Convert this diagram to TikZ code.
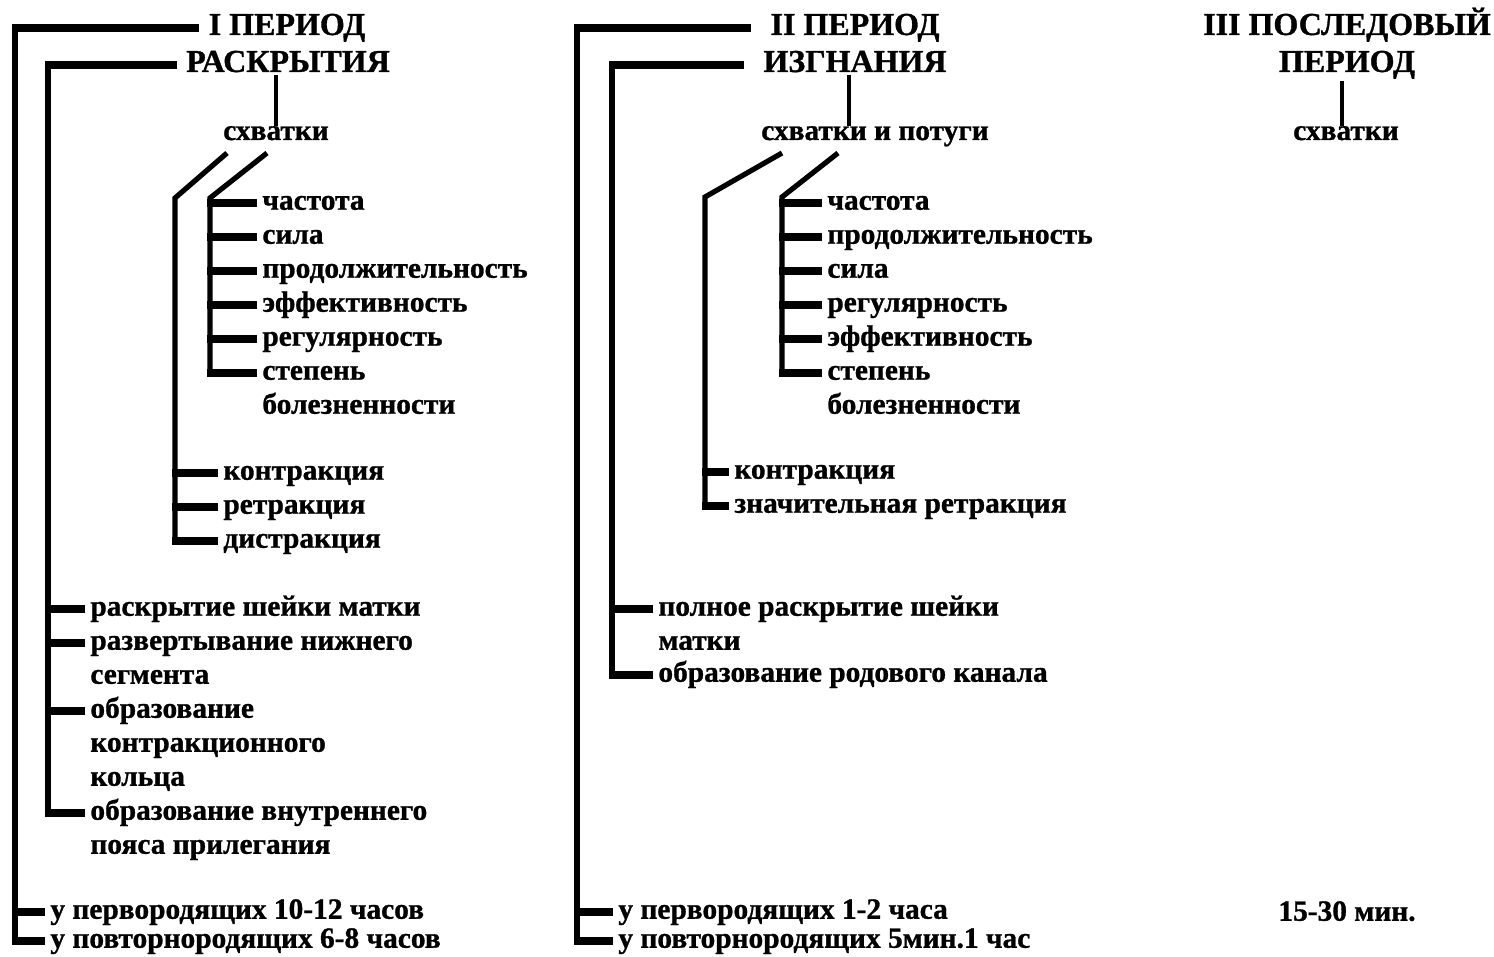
\documentclass[tikz,border=0pt]{standalone}
\usepackage{fontspec}
\setmainfont{Liberation Serif}[BoldFeatures={FakeBold=1}]
\usetikzlibrary{positioning}

\newcommand{\hdrfont}{\fontsize{16}{18.5}\selectfont\bfseries}
\newcommand{\itmfont}{\fontsize{14.7}{17}\selectfont\bfseries}

\tikzset{
  hdr/.style={font=\hdrfont, inner xsep=2.5pt, inner ysep=1pt, anchor=base},
  top/.style={font=\itmfont, inner sep=0pt, anchor=base},
  itm/.style={font=\itmfont, inner xsep=2.5pt, inner ysep=0pt, anchor=mid west},
  spine/.style={line width=2.6pt},
  stem/.style={line width=2.3pt},
  tick/.style={line width=4pt, shorten <=-1.3pt}
}

\begin{document}
\begin{tikzpicture}[x=0.5pt,y=-0.5pt,execute at begin picture=\itmfont]
\useasboundingbox (0,0) rectangle (1494,957);

\edef\ya{203}
\edef\dy{34}

% I
\node[hdr] (h1a) at (287,35) {I ПЕРИОД};
\node[hdr] (h1b) at (288,72) {РАСКРЫТИЯ};
\node[top] (s1) at (276,140) {схватки};

\node[itm] (a1) at (257,\ya) {частота};
\node[itm] (a2) at (257,\ya+\dy) {сила};
\node[itm] (a3) at (257,\ya+2*\dy) {продолжительность};
\node[itm] (a4) at (257,\ya+3*\dy) {эффективность};
\node[itm] (a5) at (257,\ya+4*\dy) {регулярность};
\node[itm] (a6) at (257,\ya+5*\dy) {степень};
\node[itm] (a6b) at (257,\ya+6*\dy) {болезненности};

\node[itm] (b1) at (218,473) {контракция};
\node[itm] (b2) at (218,507) {ретракция};
\node[itm] (b3) at (218,541) {дистракция};

\node[itm] (c1) at (85,609) {раскрытие шейки матки};
\node[itm] (c2) at (85,643) {развертывание нижнего};
\node[itm] (c2b) at (85,677) {сегмента};
\node[itm] (c3) at (85,711) {образование};
\node[itm] (c3b) at (85,745) {контракционного};
\node[itm] (c3c) at (85,779) {кольца};
\node[itm] (c4) at (85,813) {образование внутреннего};
\node[itm] (c4b) at (85,847) {пояса прилегания};

\node[itm] (d1) at (45,912) {у первородящих 10-12 часов};
\node[itm] (d2) at (45,941) {у повторнородящих 6-8 часов};

\coordinate (o1) at (15,0);
\coordinate (i1) at (48,0);
\coordinate (k1) at (227,153);
\coordinate (k2) at (267,153);
\coordinate (e1) at (175,198);
\coordinate (e2) at (210,198);

\draw[tick] (o1 |- h1a.mid west) -- ([xshift=-2pt]h1a.mid west);
\draw[spine] (o1 |- h1a.mid west) -- (o1 |- d2.mid west);
\draw[tick] (o1 |- d1.mid west) -- (d1.mid west);
\draw[tick] (o1 |- d2.mid west) -- (d2.mid west);

\draw[tick] (i1 |- h1b.mid west) -- ([xshift=-2pt]h1b.mid west);
\draw[spine] (i1 |- h1b.mid west) -- (i1 |- c4.mid west);
\draw[tick] (i1 |- c1.mid west) -- (c1.mid west);
\draw[tick] (i1 |- c2.mid west) -- (c2.mid west);
\draw[tick] (i1 |- c3.mid west) -- (c3.mid west);
\draw[tick] (i1 |- c4.mid west) -- (c4.mid west);

\draw[stem] (s1.north) -- (s1.north |- h1b.south);

\draw[spine] (k1) -- (e1) -- (e1 |- b3.mid west);
\draw[tick] (e1 |- b1.mid west) -- (b1.mid west);
\draw[tick] (e1 |- b2.mid west) -- (b2.mid west);
\draw[tick] (e1 |- b3.mid west) -- (b3.mid west);

\draw[spine] (k2) -- (e2) -- (e2 |- a6.mid west);
\draw[tick] (e2 |- a1.mid west) -- (a1.mid west);
\draw[tick] (e2 |- a2.mid west) -- (a2.mid west);
\draw[tick] (e2 |- a3.mid west) -- (a3.mid west);
\draw[tick] (e2 |- a4.mid west) -- (a4.mid west);
\draw[tick] (e2 |- a5.mid west) -- (a5.mid west);
\draw[tick] (e2 |- a6.mid west) -- (a6.mid west);

% II
\node[hdr] (h2a) at (855,35) {II ПЕРИОД};
\node[hdr] (h2b) at (855,72) {ИЗГНАНИЯ};
\node[top] (s2) at (875,140) {схватки и потуги};

\node[itm] (f1) at (822,\ya) {частота};
\node[itm] (f2) at (822,\ya+\dy) {продолжительность};
\node[itm] (f3) at (822,\ya+2*\dy) {сила};
\node[itm] (f4) at (822,\ya+3*\dy) {регулярность};
\node[itm] (f5) at (822,\ya+4*\dy) {эффективность};
\node[itm] (f6) at (822,\ya+5*\dy) {степень};
\node[itm] (f6b) at (822,\ya+6*\dy) {болезненности};

\node[itm] (g1) at (729,472) {контракция};
\node[itm] (g2) at (729,506) {значительная ретракция};

\node[itm] (m1) at (653,609) {полное раскрытие шейки};
\node[itm] (m1b) at (653,643) {матки};
\node[itm] (m2) at (653,675) {образование родового канала};

\node[itm] (n1) at (613,912) {у первородящих 1-2 часа};
\node[itm] (n2) at (613,941) {у повторнородящих 5мин.1 час};

\coordinate (o2) at (577,0);
\coordinate (i2) at (612,0);
\coordinate (k3) at (782,153);
\coordinate (k4) at (838,153);
\coordinate (e3) at (705,197);
\coordinate (e4) at (782,197);

\draw[tick] (o2 |- h2a.mid west) -- ([xshift=-7pt]h2a.mid west);
\draw[spine] (o2 |- h2a.mid west) -- (o2 |- n2.mid west);
\draw[tick] (o2 |- n1.mid west) -- (n1.mid west);
\draw[tick] (o2 |- n2.mid west) -- (n2.mid west);

\draw[tick] (i2 |- h2b.mid west) -- ([xshift=-7pt]h2b.mid west);
\draw[spine] (i2 |- h2b.mid west) -- (i2 |- m2.mid west);
\draw[tick] (i2 |- m1.mid west) -- (m1.mid west);
\draw[tick] (i2 |- m2.mid west) -- (m2.mid west);

\draw[stem] ([xshift=-3pt]h2b.south) -- ([xshift=-3pt]h2b.south |- s2.north);

\draw[spine] (k3) -- (e3) -- (e3 |- g2.mid west);
\draw[tick] (e3 |- g1.mid west) -- (g1.mid west);
\draw[tick] (e3 |- g2.mid west) -- (g2.mid west);

\draw[spine] (k4) -- (e4) -- (e4 |- f6.mid west);
\draw[tick] (e4 |- f1.mid west) -- (f1.mid west);
\draw[tick] (e4 |- f2.mid west) -- (f2.mid west);
\draw[tick] (e4 |- f3.mid west) -- (f3.mid west);
\draw[tick] (e4 |- f4.mid west) -- (f4.mid west);
\draw[tick] (e4 |- f5.mid west) -- (f5.mid west);
\draw[tick] (e4 |- f6.mid west) -- (f6.mid west);

% III
\node[hdr] (h3a) at (1347,35) {III ПОСЛЕДОВЫЙ};
\node[hdr] (h3b) at (1347,72) {ПЕРИОД};
\node[top] (s3) at (1346,140) {схватки};
\node[top,anchor=mid] (t3) at (1347,914) {15-30 мин.};

\draw[stem] ([xshift=-2pt]s3.north) -- ([xshift=-2pt]s3.north |- h3b.south);
\end{tikzpicture}
\end{document}
